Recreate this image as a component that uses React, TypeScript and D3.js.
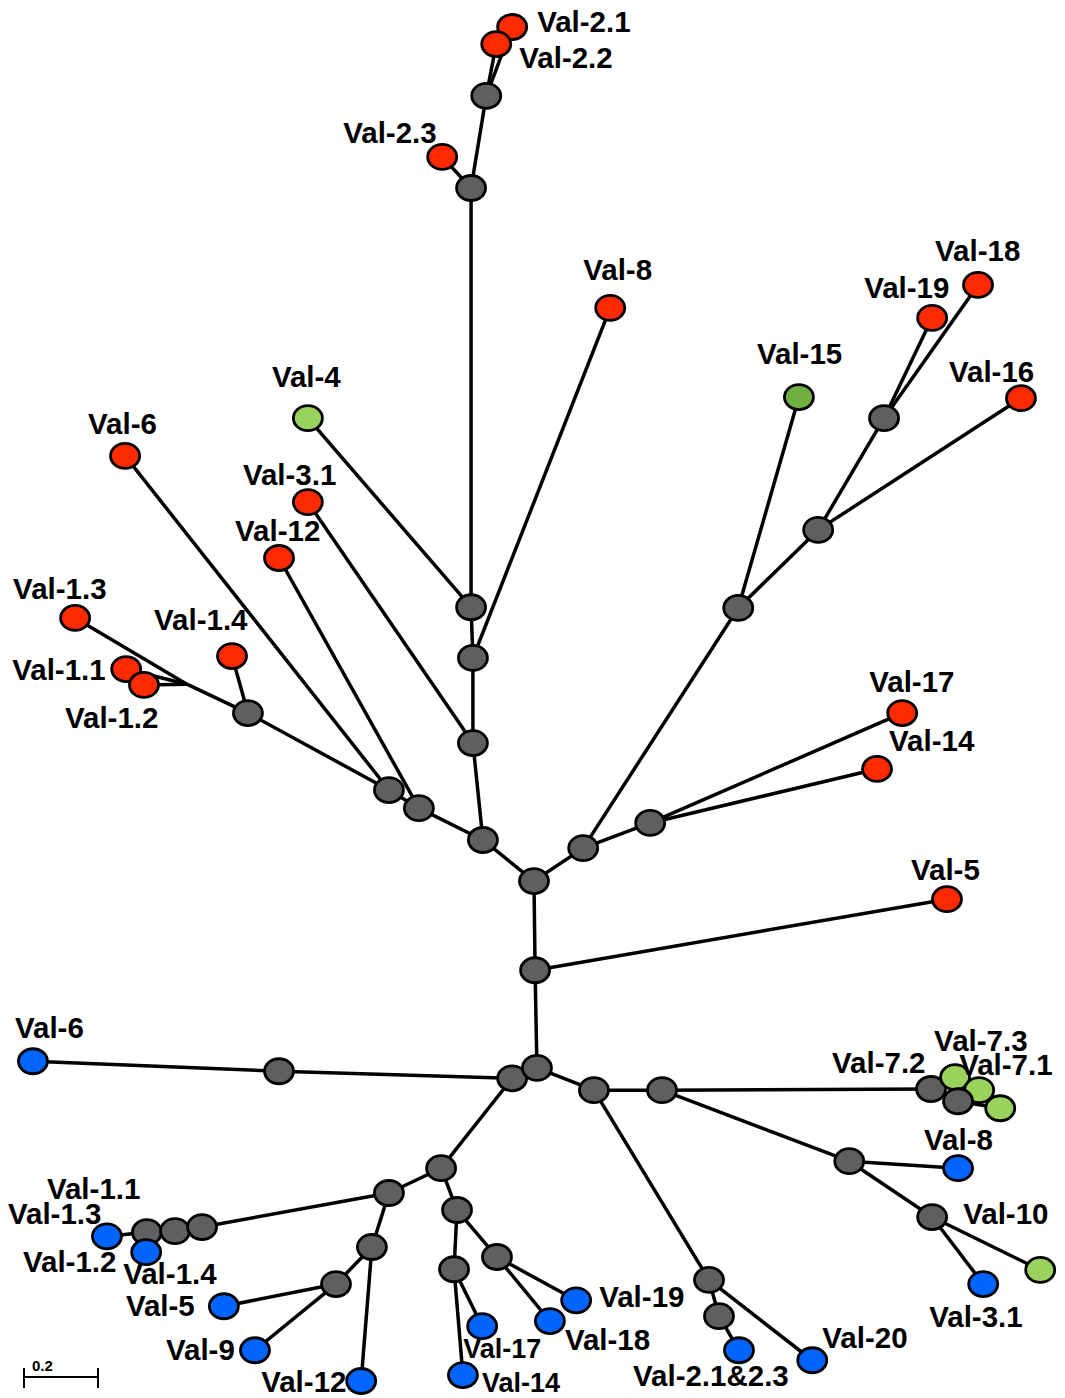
import React, { useEffect, useRef } from 'react';
import * as d3 from 'd3';

// node positions in tree units (branch length), kind = fill group
const nodes = [
  // upper (red) clade
  { id: 'c0', x: 1.443, y: 2.381, kind: 'int' },
  { id: 'c1', x: 1.446, y: 2.622, kind: 'int' },
  { id: 'a1', x: 1.305, y: 2.270, kind: 'int' },
  { id: 'a2', x: 1.132, y: 2.184, kind: 'int' },
  { id: 'a3', x: 1.051, y: 2.135, kind: 'int' },
  { id: 'a4', x: 0.670, y: 1.927, kind: 'int' },
  { id: 'a5', x: 0.505, y: 1.849, kind: 'hidden' },
  { id: 'a6', x: 1.278, y: 2.008, kind: 'int' },
  { id: 'a7', x: 1.278, y: 1.778, kind: 'int' },
  { id: 'a8', x: 1.273, y: 1.641, kind: 'int' },
  { id: 'a9', x: 1.273, y: 0.508, kind: 'int' },
  { id: 'a10', x: 1.314, y: 0.259, kind: 'int' },
  { id: 'rV12', x: 0.754, y: 1.508, kind: 'red' },
  { id: 'rV31', x: 0.832, y: 1.357, kind: 'red' },
  { id: 'rV6', x: 0.338, y: 1.232, kind: 'red' },
  { id: 'rV14a', x: 0.627, y: 1.773, kind: 'red' },
  { id: 'rV13', x: 0.203, y: 1.670, kind: 'red' },
  { id: 'rV11', x: 0.341, y: 1.808, kind: 'red' },
  { id: 'rV12a', x: 0.389, y: 1.851, kind: 'red' },
  { id: 'rV8', x: 1.649, y: 0.832, kind: 'red' },
  { id: 'gV4', x: 0.832, y: 1.130, kind: 'lgreen' },
  { id: 'rV23', x: 1.195, y: 0.424, kind: 'red' },
  { id: 'rV21', x: 1.384, y: 0.073, kind: 'red' },
  { id: 'rV22', x: 1.341, y: 0.119, kind: 'red' },
  { id: 'b1', x: 1.576, y: 2.292, kind: 'int' },
  { id: 'b2', x: 1.757, y: 2.224, kind: 'int' },
  { id: 'b3', x: 1.995, y: 1.643, kind: 'int' },
  { id: 'b4', x: 2.211, y: 1.432, kind: 'int' },
  { id: 'b5', x: 2.389, y: 1.130, kind: 'int' },
  { id: 'rV17', x: 2.438, y: 1.927, kind: 'red' },
  { id: 'rV14', x: 2.370, y: 2.078, kind: 'red' },
  { id: 'gV15', x: 2.159, y: 1.073, kind: 'dgreen' },
  { id: 'rV16', x: 2.759, y: 1.076, kind: 'red' },
  { id: 'rV19', x: 2.519, y: 0.859, kind: 'red' },
  { id: 'rV18', x: 2.643, y: 0.770, kind: 'red' },
  { id: 'rV5', x: 2.559, y: 2.430, kind: 'red' },
  // lower (blue) clade
  { id: 'c3', x: 1.384, y: 2.914, kind: 'int' },
  { id: 'c2', x: 1.451, y: 2.886, kind: 'int' },
  { id: 'bV6', x: 0.089, y: 2.868, kind: 'blue' },
  { id: 'c4', x: 0.754, y: 2.895, kind: 'int' },
  { id: 'c5', x: 1.192, y: 3.157, kind: 'int' },
  { id: 'c6', x: 1.051, y: 3.224, kind: 'int' },
  { id: 'c9', x: 0.397, y: 3.330, kind: 'int' },
  { id: 'c8', x: 0.473, y: 3.327, kind: 'int' },
  { id: 'c7', x: 0.546, y: 3.316, kind: 'int' },
  { id: 'bV13', x: 0.289, y: 3.341, kind: 'blue' },
  { id: 'bV14a', x: 0.395, y: 3.384, kind: 'blue' },
  { id: 'c10', x: 1.005, y: 3.370, kind: 'int' },
  { id: 'c11', x: 0.908, y: 3.470, kind: 'int' },
  { id: 'bV12', x: 0.976, y: 3.732, kind: 'blue' },
  { id: 'bV5', x: 0.605, y: 3.530, kind: 'blue' },
  { id: 'bV9', x: 0.689, y: 3.649, kind: 'blue' },
  { id: 'c12', x: 1.235, y: 3.270, kind: 'int' },
  { id: 'c13', x: 1.227, y: 3.430, kind: 'int' },
  { id: 'c14', x: 1.343, y: 3.397, kind: 'int' },
  { id: 'bV17', x: 1.303, y: 3.584, kind: 'blue' },
  { id: 'bV14', x: 1.251, y: 3.716, kind: 'blue' },
  { id: 'bV19', x: 1.557, y: 3.514, kind: 'blue' },
  { id: 'bV18', x: 1.486, y: 3.570, kind: 'blue' },
  { id: 'c15', x: 1.605, y: 2.946, kind: 'int' },
  { id: 'c16', x: 1.789, y: 2.946, kind: 'int' },
  { id: 'c17', x: 1.916, y: 3.459, kind: 'int' },
  { id: 'c18', x: 1.943, y: 3.557, kind: 'int' },
  { id: 'bV2123', x: 1.997, y: 3.649, kind: 'blue' },
  { id: 'bV20', x: 2.195, y: 3.676, kind: 'blue' },
  { id: 'c19', x: 2.516, y: 2.943, kind: 'int' },
  { id: 'gV73', x: 2.581, y: 2.911, kind: 'lgreen' },
  { id: 'gV71', x: 2.646, y: 2.946, kind: 'lgreen' },
  { id: 'c20', x: 2.589, y: 2.976, kind: 'int' },
  { id: 'gV7x', x: 2.703, y: 2.995, kind: 'lgreen' },
  { id: 'c21', x: 2.295, y: 3.138, kind: 'int' },
  { id: 'bV8', x: 2.589, y: 3.157, kind: 'blue' },
  { id: 'c22', x: 2.519, y: 3.289, kind: 'int' },
  { id: 'bV31', x: 2.657, y: 3.470, kind: 'blue' },
  { id: 'gV10', x: 2.811, y: 3.432, kind: 'lgreen' },
];

const edges = [
  ['c0', 'c1'], ['c0', 'a1'], ['c0', 'b1'], ['c1', 'rV5'], ['c1', 'c2'],
  ['a1', 'a2'], ['a1', 'a6'], ['a2', 'a3'], ['a2', 'rV12'], ['a3', 'rV6'], ['a3', 'a4'],
  ['a4', 'rV14a'], ['a4', 'a5'], ['a5', 'rV13'], ['a5', 'rV11'], ['a5', 'rV12a'],
  ['a6', 'rV31'], ['a6', 'a7'], ['a7', 'rV8'], ['a7', 'a8'], ['a8', 'gV4'], ['a8', 'a9'],
  ['a9', 'rV23'], ['a9', 'a10'], ['a10', 'rV22'], ['a10', 'rV21'],
  ['b1', 'b2'], ['b1', 'b3'], ['b2', 'rV17'], ['b2', 'rV14'], ['b3', 'gV15'], ['b3', 'b4'],
  ['b4', 'b5'], ['b4', 'rV16'], ['b5', 'rV19'], ['b5', 'rV18'],
  ['c2', 'c3'], ['c2', 'c15'], ['c3', 'c4'], ['c4', 'bV6'], ['c3', 'c5'],
  ['c5', 'c6'], ['c5', 'c12'], ['c6', 'c7'], ['c6', 'c10'], ['c7', 'c8'], ['c8', 'c9'],
  ['c9', 'bV13'], ['c9', 'bV14a'], ['c10', 'c11'], ['c10', 'bV12'], ['c11', 'bV5'], ['c11', 'bV9'],
  ['c12', 'c13'], ['c12', 'c14'], ['c13', 'bV17'], ['c13', 'bV14'], ['c14', 'bV19'], ['c14', 'bV18'],
  ['c15', 'c16'], ['c15', 'c17'], ['c17', 'c18'], ['c18', 'bV2123'], ['c17', 'bV20'],
  ['c16', 'c19'], ['c16', 'c21'], ['c19', 'gV73'], ['c19', 'c20'], ['c20', 'gV71'], ['c20', 'gV7x'],
  ['c21', 'bV8'], ['c21', 'c22'], ['c22', 'bV31'], ['c22', 'gV10'],
];

// label text and the node it belongs to
const labelNames = [
  ['rV21', 'Val-2.1'], ['rV22', 'Val-2.2'], ['rV23', 'Val-2.3'], ['rV8', 'Val-8'],
  ['rV18', 'Val-18'], ['rV19', 'Val-19'], ['gV15', 'Val-15'], ['rV16', 'Val-16'],
  ['gV4', 'Val-4'], ['rV6', 'Val-6'], ['rV31', 'Val-3.1'], ['rV12', 'Val-12'],
  ['rV13', 'Val-1.3'], ['rV14a', 'Val-1.4'], ['rV11', 'Val-1.1'], ['rV12a', 'Val-1.2'],
  ['rV17', 'Val-17'], ['rV14', 'Val-14'], ['rV5', 'Val-5'],
  ['bV6', 'Val-6'], ['gV73', 'Val-7.3'], ['c19', 'Val-7.2'], ['gV71', 'Val-7.1'],
  ['bV8', 'Val-8'], ['c9', 'Val-1.1'], ['gV10', 'Val-10'], ['bV13', 'Val-1.3'],
  ['bV13', 'Val-1.2'], ['bV14a', 'Val-1.4'], ['bV19', 'Val-19'], ['bV5', 'Val-5'],
  ['bV31', 'Val-3.1'], ['bV18', 'Val-18'], ['bV20', 'Val-20'], ['bV9', 'Val-9'],
  ['bV17', 'Val-17'], ['bV14', 'Val-14'], ['bV12', 'Val-12'], ['bV2123', 'Val-2.1&2.3'],
];

// label placement relative to node centre (px), same order as labelNames
const labelOffsets = [
  [25, 5], [23, 24], [-99, -14], [-27, -28],
  [-43, -24], [-68, -20], [-42, -33], [-72, -16],
  [-36, -31], [-37, -22], [-65, -17], [-44, -17],
  [-62, -19], [-78, -26], [-114, 11], [-79, 43],
  [-33, -21], [12, -18], [-36, -19],
  [-18, -23], [-21, -26], [-99, -16], [-20, -15],
  [-34, -18], [-100, -33], [-77, -46], [-99, -12],
  [-84, 36], [-23, 32], [23, 7], [-98, 10],
  [-54, 43], [15, 29], [10, -12], [-89, 10],
  [-19, 32], [19, 17], [-100, 11], [-106, 36],
];

const scaleBarLength = 0.2;

const fills: Record<string, string> = {
  int: '#5f5f5f',
  red: '#ff2a00',
  blue: '#0064ff',
  lgreen: '#99d35e',
  dgreen: '#6fb040',
};

const App = () => {
  const ref = useRef<SVGSVGElement>(null);

  useEffect(() => {
    const width = 1065;
    const height = 1398;
    const svg = d3.select(ref.current);
    svg.selectAll('*').remove();

    const x = d3.scaleLinear().domain([0, 2.878]).range([0, width]);
    const y = d3.scaleLinear().domain([0, 3.778]).range([0, height]);

    const byId = new Map(nodes.map(n => [n.id, n]));

    svg.append('g')
      .selectAll('line')
      .data(edges)
      .enter()
      .append('line')
      .attr('x1', d => x(byId.get(d[0])!.x))
      .attr('y1', d => y(byId.get(d[0])!.y))
      .attr('x2', d => x(byId.get(d[1])!.x))
      .attr('y2', d => y(byId.get(d[1])!.y))
      .attr('stroke', '#000')
      .attr('stroke-width', 3.5);

    svg.append('g')
      .selectAll('ellipse')
      .data(nodes.filter(n => n.kind !== 'hidden'))
      .enter()
      .append('ellipse')
      .attr('cx', d => x(d.x))
      .attr('cy', d => y(d.y))
      .attr('rx', 14.5)
      .attr('ry', 12.5)
      .attr('fill', d => fills[d.kind])
      .attr('stroke', '#000')
      .attr('stroke-width', 2.8);

    const small = new Set(['bV17', 'bV14']);
    svg.append('g')
      .selectAll('text')
      .data(labelNames.map((l, i) => ({ node: byId.get(l[0])!, text: l[1], off: labelOffsets[i] })))
      .enter()
      .append('text')
      .attr('x', d => x(d.node.x) + d.off[0])
      .attr('y', d => y(d.node.y) + d.off[1])
      .attr('font-family', 'Arial, "Liberation Sans", Helvetica, sans-serif')
      .attr('font-weight', 'bold')
      .attr('font-size', d => (small.has(d.node.id) ? 27 : 29.5))
      .attr('fill', '#000')
      .text(d => d.text);

    // scale bar
    const x0 = 24;
    const x1 = x0 + x(scaleBarLength) - x(0);
    const sb = svg.append('g').attr('stroke', '#000').attr('stroke-width', 2);
    sb.append('line').attr('x1', x0).attr('x2', x1).attr('y1', 1377).attr('y2', 1377);
    sb.append('line').attr('x1', x0).attr('x2', x0).attr('y1', 1368).attr('y2', 1388);
    sb.append('line').attr('x1', x1).attr('x2', x1).attr('y1', 1368).attr('y2', 1388);
    svg.append('text')
      .attr('x', 32)
      .attr('y', 1371)
      .attr('font-family', 'Arial, "Liberation Sans", Helvetica, sans-serif')
      .attr('font-weight', 'bold')
      .attr('font-size', 15)
      .text(String(scaleBarLength));
  }, []);

  return (
    <svg
      ref={ref}
      width={1065}
      height={1398}
      style={{ position: 'absolute', left: 0, top: 0, background: '#fff' }}
    />
  );
};

export default App;
